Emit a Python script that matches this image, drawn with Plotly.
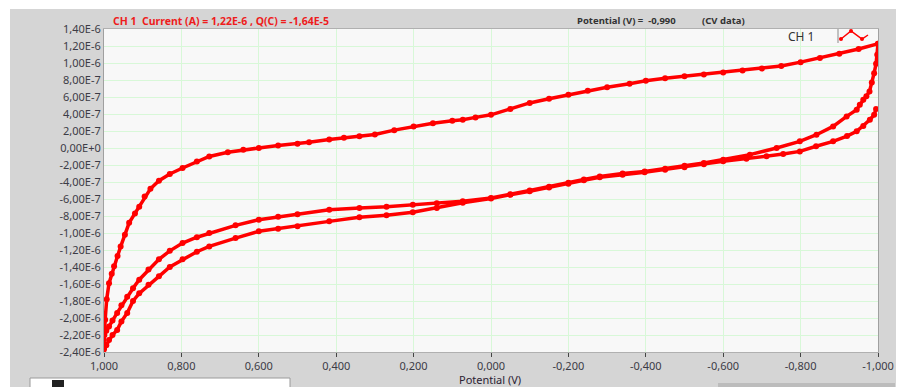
import plotly.graph_objects as go

# --- data (potential in V, current in µA) ---
# branch B: first return sweep (outer lower curve), from -1.0 V to +1.0 V
b_pot = [-0.995, -0.99, -0.979, -0.962, -0.945, -0.92, -0.884, -0.84, -0.798, -0.755, -0.712, -0.66,
         -0.6, -0.55, -0.5, -0.45, -0.397, -0.34, -0.281, -0.24, -0.2, -0.15, -0.1, -0.05, 0.0, 0.073,
         0.14, 0.202, 0.27, 0.34, 0.418, 0.5, 0.55, 0.6, 0.66, 0.728, 0.76, 0.797, 0.83, 0.858, 0.885,
         0.909, 0.925, 0.94, 0.955, 0.966, 0.978, 0.987, 0.994, 1.0]
b_cur = [0.459, 0.39, 0.333, 0.26, 0.196, 0.14, 0.078, 0.02, -0.04, -0.07, -0.098, -0.125,
         -0.157, -0.19, -0.225, -0.255, -0.285, -0.315, -0.345, -0.38, -0.42, -0.465, -0.51, -0.55, -0.595, -0.645,
         -0.705, -0.755, -0.79, -0.815, -0.863, -0.92, -0.95, -0.98, -1.06, -1.158, -1.22, -1.31, -1.40, -1.51, -1.61,
         -1.71, -1.80, -1.94, -2.04, -2.14, -2.20, -2.26, -2.32, -2.37]

# upper branch U: forward sweep, from +1.0 V to -1.0 V
u_pot = [1.0, 0.999, 0.997, 0.993, 0.987, 0.98, 0.974, 0.965, 0.957, 0.946, 0.935, 0.92, 0.909, 0.895,
         0.88, 0.858, 0.83, 0.797, 0.76, 0.728, 0.68, 0.64, 0.6, 0.55, 0.5, 0.47, 0.418, 0.38, 0.34, 0.3,
         0.25, 0.2, 0.15, 0.1, 0.073, 0.04, 0.0, -0.05, -0.1, -0.15, -0.2, -0.25, -0.3, -0.358, -0.4, -0.45,
         -0.5, -0.55, -0.6, -0.65, -0.7, -0.75, -0.8, -0.85, -0.9, -0.95, -1.0]
u_cur = [-2.35, -2.2, -2.02, -1.78, -1.59, -1.48, -1.39, -1.27, -1.16, -1.02, -0.88, -0.77, -0.69, -0.57,
         -0.48, -0.385, -0.305, -0.235, -0.16, -0.10, -0.05, -0.02, 0.0, 0.03, 0.05, 0.067, 0.10, 0.12, 0.137, 0.16,
         0.21, 0.254, 0.29, 0.32, 0.333, 0.36, 0.39, 0.46, 0.53, 0.58, 0.627, 0.675, 0.715, 0.756, 0.79, 0.82,
         0.845, 0.865, 0.889, 0.912, 0.935, 0.965, 1.01, 1.06, 1.11, 1.165, 1.227]

# branch A: second return sweep (inner lower curve), from -1.0 V to +1.0 V
a_pot = [-1.0, -0.998, -0.995, -0.99, -0.984, -0.978, -0.97, -0.962, -0.953, -0.945, -0.919, -0.884,
         -0.841, -0.798, -0.738, -0.669, -0.6, -0.55, -0.5, -0.45, -0.397, -0.34, -0.281, -0.24, -0.2,
         -0.15, -0.1, -0.05, 0.0, 0.073, 0.14, 0.202, 0.27, 0.34, 0.418, 0.5, 0.55, 0.6, 0.66, 0.728,
         0.76, 0.797, 0.83, 0.858, 0.885, 0.909, 0.925, 0.94, 0.955, 0.966, 0.978, 0.987, 0.994, 1.0]
a_cur = [1.227, 1.098, 0.99, 0.88, 0.77, 0.666, 0.61, 0.568, 0.51, 0.45, 0.372, 0.254,
         0.156, 0.078, 0.0, -0.078, -0.138, -0.175, -0.21, -0.245, -0.275, -0.3, -0.334, -0.37, -0.41,
         -0.455, -0.50, -0.545, -0.588, -0.625, -0.65, -0.667, -0.69, -0.706, -0.726, -0.78, -0.81, -0.843, -0.91, -1.0,
         -1.05, -1.118, -1.21, -1.31, -1.43, -1.55, -1.65, -1.75, -1.85, -1.94, -2.03, -2.1, -2.15, -2.2]

x_ticks = [1.0, 0.8, 0.6, 0.4, 0.2, 0.0, -0.2, -0.4, -0.6, -0.8, -1.0]
x_labels = ["1,000", "0,800", "0,600", "0,400", "0,200", "0,000", "-0,200", "-0,400", "-0,600", "-0,800", "-1,000"]
y_ticks = [1.4, 1.2, 1.0, 0.8, 0.6, 0.4, 0.2, 0.0, -0.2, -0.4, -0.6, -0.8, -1.0, -1.2, -1.4, -1.6, -1.8,
           -2.0, -2.2, -2.4]
y_labels = ["1,40E-6", "1,20E-6", "1,00E-6", "8,00E-7", "6,00E-7", "4,00E-7", "2,00E-7", "0,00E+0",
            "-2,00E-7", "-4,00E-7", "-6,00E-7", "-8,00E-7", "-1,00E-6", "-1,20E-6", "-1,40E-6", "-1,60E-6",
            "-1,80E-6", "-2,00E-6", "-2,20E-6", "-2,40E-6"]

pot = b_pot + u_pot + a_pot
cur = [c * 1e-6 for c in (b_cur + u_cur + a_cur)]

RED = "#ff0000"
TXT = "#3c3c46"
FONT = "Noto Sans"

fig = go.Figure()
fig.add_trace(go.Scatter(
    x=pot, y=cur, mode="lines+markers",
    line=dict(color=RED, width=3.5),
    marker=dict(color=RED, size=6),
    showlegend=False, hoverinfo="skip",
))

# page body has an 8px margin: figure origin sits at (8, 8) of the window
OFF = 8
W, H = 904, 387
# plot area in window pixels: x 104..878, y 29..352
L = 104 - OFF
T = 29 - OFF
R = W - (878 - OFF)
B = H - (352 - OFF)
pw, ph = W - L - R, H - T - B


def px(xp):  # window pixel x -> paper
    return (xp - OFF - L) / pw


def py(yp):  # window pixel y -> paper
    return (H - B - (yp - OFF)) / ph


shapes = [
    dict(type="rect", xref="paper", yref="paper", x0=px(8), x1=px(10), y0=py(H + 8), y1=py(0),
         fillcolor="white", line_width=0, layer="below"),
    dict(type="rect", xref="paper", yref="paper", x0=px(0), x1=px(W + 8), y0=py(9), y1=py(0),
         fillcolor="white", line_width=0, layer="below"),
    # legend separator and icon
    dict(type="line", xref="paper", yref="paper", x0=px(838), x1=px(838), y0=py(29), y1=py(43),
         line=dict(color="#8a8a8a", width=1)),
    dict(type="path", xref="paper", yref="paper",
         path=f"M {px(841)} {py(39)} L {px(851)} {py(31)} L {px(862)} {py(39)} L {px(868)} {py(35)}",
         line=dict(color=RED, width=1.5)),
    # partially visible controls at bottom
    dict(type="rect", xref="paper", yref="paper", x0=px(30), x1=px(290), y0=py(H + 2), y1=py(378),
         fillcolor="white", line=dict(color="#9a9a9a", width=1)),
    dict(type="rect", xref="paper", yref="paper", x0=px(52), x1=px(64), y0=py(H + 2), y1=py(380),
         fillcolor="#222222", line_width=0),
    dict(type="rect", xref="paper", yref="paper", x0=px(718), x1=px(895), y0=py(H + 2), y1=py(383),
         fillcolor="#bcbcbc", line_width=0),
]
for cx, cy in [(841, 39), (851, 31), (862, 39)]:
    shapes.append(dict(type="circle", xref="paper", yref="paper",
                       x0=px(cx - 2), x1=px(cx + 2), y0=py(cy + 2), y1=py(cy - 2),
                       fillcolor=RED, line_width=0))

annotations = [
    dict(text="<b>CH 1  Current (A) = 1,22E-6 , Q(C) = -1,64E-5</b>", x=px(111), y=py(21),
         xref="paper", yref="paper", xanchor="left", yanchor="middle", showarrow=False,
         font=dict(family=FONT, size=10.5, color="#ee1c1c")),
    dict(text="<b>Potential (V) =  -0,990</b>", x=px(575), y=py(21),
         xref="paper", yref="paper", xanchor="left", yanchor="middle", showarrow=False,
         font=dict(family=FONT, size=9.5, color="#333333")),
    dict(text="<b>(CV data)</b>", x=px(700), y=py(21),
         xref="paper", yref="paper", xanchor="left", yanchor="middle", showarrow=False,
         font=dict(family=FONT, size=9.5, color="#333333")),
    dict(text="CH 1", x=px(801), y=py(36),
         xref="paper", yref="paper", xanchor="center", yanchor="middle", showarrow=False,
         font=dict(family=FONT, size=12, color="#333333")),
    dict(text="Potential (V)", x=px(490), y=py(379),
         xref="paper", yref="paper", xanchor="center", yanchor="middle", showarrow=False,
         font=dict(family=FONT, size=11, color="#2b2233")),
]

fig.update_layout(
    width=W, height=H,
    margin=dict(l=L, r=R, t=T, b=B, pad=0),
    paper_bgcolor="#d5d5d5",
    plot_bgcolor="#f8f8f8",
    shapes=shapes,
    annotations=annotations,
    xaxis=dict(
        range=[1.0, -1.0], tickvals=x_ticks, ticktext=x_labels,
        showgrid=True, gridcolor="#d8f8d8", gridwidth=1, zeroline=False,
        ticks="outside", ticklen=4, tickcolor="#444444", tickwidth=1,
        tickfont=dict(family=FONT, size=11, color=TXT),
        showline=True, linecolor="#b0b0b0", linewidth=1, mirror=True,
    ),
    yaxis=dict(
        range=[-2.4e-6, 1.4e-6], tickvals=[v * 1e-6 for v in y_ticks], ticktext=y_labels,
        showgrid=True, gridcolor="#d8f8d8", gridwidth=1, zeroline=False,
        ticks="", ticklen=3, tickfont=dict(family=FONT, size=11, color=TXT),
        showline=True, linecolor="#a0a0a0", linewidth=1, mirror=True,
    ),
)

fig.write_html("out.html")
